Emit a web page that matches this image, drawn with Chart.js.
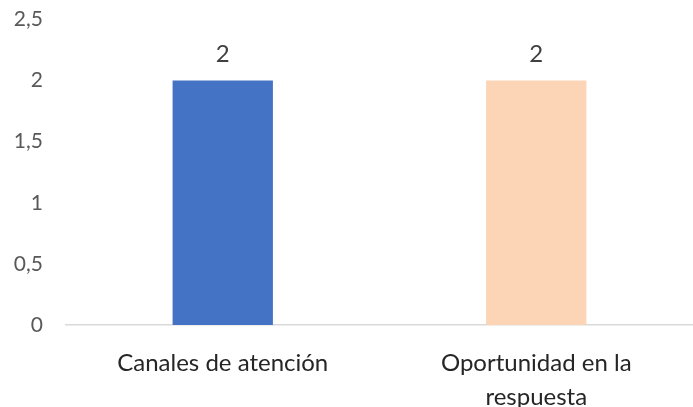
<!DOCTYPE html>
<html>
<head>
<meta charset="utf-8">
<script src="https://cdn.jsdelivr.net/npm/chart.js@4/dist/chart.umd.min.js"></script>
<style>
  html, body { margin: 0; padding: 0; background: #fff; overflow: hidden; }
  #wrap { width: 693px; height: 421px; position: relative; top: -14px; }
</style>
</head>
<body>
<div id="wrap"><canvas id="chart"></canvas></div>
<script>
const categories = ['Canales de atención', ['Oportunidad en la', 'respuesta']];
const values = [2, 2];
const barColors = ['#4472C4', '#FBD5B5'];
const yTicks = [0, 0.5, 1, 1.5, 2, 2.5];

const fontFamily = 'Lato, "Open Sans", sans-serif';

// small plugin to draw the value above each bar
const valueLabels = {
    id: 'valueLabels',
    afterDatasetsDraw(chart) {
        const ctx = chart.ctx;
        const meta = chart.getDatasetMeta(0);
        ctx.save();
        ctx.font = '24px ' + fontFamily;
        ctx.fillStyle = '#404040';
        ctx.textAlign = 'center';
        ctx.textBaseline = 'middle';
        meta.data.forEach((bar, i) => {
            ctx.fillText(String(values[i]).replace('.', ','), bar.x, bar.y - 26);
        });
        ctx.restore();
    }
};

new Chart(document.getElementById('chart'), {
    type: 'bar',
    data: {
        labels: categories,
        datasets: [{
            data: values,
            backgroundColor: barColors,
            barPercentage: 0.32,
            categoryPercentage: 1
        }]
    },
    options: {
        responsive: true,
        maintainAspectRatio: false,
        animation: false,
        layout: { padding: 0 },
        plugins: {
            legend: { display: false },
            tooltip: { enabled: false }
        },
        scales: {
            y: {
                min: 0,
                max: 2.5,
                afterBuildTicks: (scale) => {
                    scale.ticks = yTicks.map(v => ({ value: v }));
                },
                afterFit: (scale) => { scale.width = 66; },
                grid: { display: false, drawTicks: false },
                border: { display: false },
                ticks: {
                    padding: 23,
                    color: '#595959',
                    font: { family: fontFamily, size: 21, lineHeight: 1 },
                    callback: (v) => String(v).replace('.', ',')
                }
            },
            x: {
                afterFit: (scale) => { scale.height = 82; },
                grid: { display: false, drawTicks: false },
                border: { display: true, color: '#D9D9D9', width: 1.5 },
                ticks: {
                    padding: 21,
                    color: '#262626',
                    maxRotation: 0,
                    autoSkip: false,
                    font: { family: fontFamily, size: 24, lineHeight: 1.42 }
                }
            }
        }
    },
    plugins: [valueLabels]
});
</script>
</body>
</html>
